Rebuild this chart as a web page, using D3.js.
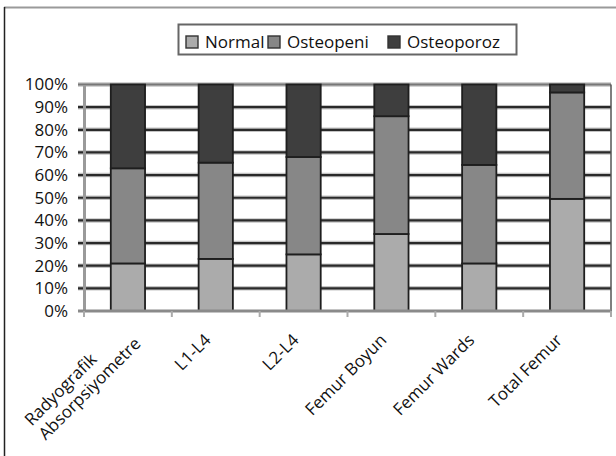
<!DOCTYPE html>
<html>
<head>
<meta charset="utf-8">
<script src="https://cdn.jsdelivr.net/npm/d3@7/dist/d3.min.js"></script>
<style>
  html, body { margin: 0; padding: 0; background: #fff; }
  svg { display: block; font-family: "Open Sans", "Noto Sans", sans-serif; }
</style>
</head>
<body>
<svg id="chart" width="616" height="456"></svg>
<script>
// Bone density classification by measurement site (stacked to 100%)
const categories = [
  ["Radyografik", "Absorpsiyometre"],
  ["L1-L4"],
  ["L2-L4"],
  ["Femur Boyun"],
  ["Femur Wards"],
  ["Total Femur"]
];
const seriesNames = ["Normal", "Osteopeni", "Osteoporoz"];
const normal     = [21, 23, 25, 34, 21, 49.5];
const osteopeni  = [42, 42.5, 43, 52, 43.5, 47];
const osteoporoz = [37, 34.5, 32, 14, 35.5, 3.5];
const yTicks = [0, 10, 20, 30, 40, 50, 60, 70, 80, 90, 100];
const colors = ["#ababab", "#878787", "#3e3e3e"];

const svg = d3.select("#chart");
const W = 616, H = 456;
const plot = { left: 84, right: 611, top: 84.5, bottom: 311 };

// frame lines
svg.append("line").attr("x1", 4).attr("x2", W).attr("y1", 7.5).attr("y2", 7.5)
  .attr("stroke", "#9a9a9a").attr("stroke-width", 2);
svg.append("line").attr("x1", 4.5).attr("x2", 4.5).attr("y1", 7).attr("y2", H)
  .attr("stroke", "#222").attr("stroke-width", 1.5);

const keys = categories.map(c => c.join(" "));
const rows = keys.map((k, i) => ({ key: k, Normal: normal[i], Osteopeni: osteopeni[i], Osteoporoz: osteoporoz[i] }));

const x = d3.scaleBand().domain(keys).range([plot.left, plot.right])
  .paddingInner(0.61).paddingOuter(0.305);
const y = d3.scaleLinear().domain([0, 100]).range([plot.bottom, plot.top]);

// horizontal gridlines with soft halo
const grid = svg.append("g");
yTicks.filter(t => t > 0).forEach(t => {
  grid.append("line").attr("x1", plot.left - 6).attr("x2", plot.right)
    .attr("y1", y(t)).attr("y2", y(t))
    .attr("stroke", "#c4c4c4").attr("stroke-width", 4.5);
});
yTicks.filter(t => t > 0).forEach(t => {
  grid.append("line").attr("x1", plot.left - 6).attr("x2", plot.right)
    .attr("y1", y(t)).attr("y2", y(t))
    .attr("stroke", t === 100 ? "#777" : "#2a2a2a").attr("stroke-width", 2.2);
});
// right plot edge
grid.append("line").attr("x1", plot.right).attr("x2", plot.right)
  .attr("y1", plot.top).attr("y2", plot.bottom)
  .attr("stroke", "#555").attr("stroke-width", 1.5);

// y axis
const yAxis = d3.axisLeft(y).tickValues(yTicks).tickFormat(d => d + "%").tickSize(0).tickPadding(16);
const ya = svg.append("g").attr("transform", `translate(${plot.left},0)`).call(yAxis);
ya.select(".domain").attr("stroke", "#9a9a9a").attr("stroke-width", 3);
ya.selectAll("text").attr("font-size", 17).attr("fill", "#111")
  .attr("font-family", "'Open Sans', sans-serif");

// stacked bars
const stack = d3.stack().keys(seriesNames);
const layers = stack(rows);
svg.append("g").selectAll("g").data(layers).join("g")
  .attr("fill", (d, i) => colors[i])
  .selectAll("rect").data(d => d).join("rect")
  .attr("x", d => x(d.data.key))
  .attr("width", x.bandwidth())
  .attr("y", d => y(d[1]))
  .attr("height", d => y(d[0]) - y(d[1]))
  .attr("stroke", "#1e1e1e").attr("stroke-width", 1.8);

// x axis baseline and category boundary ticks
svg.append("line").attr("x1", plot.left - 6).attr("x2", plot.right)
  .attr("y1", plot.bottom).attr("y2", plot.bottom)
  .attr("stroke", "#8a8a8a").attr("stroke-width", 3);
const step = x.step();
d3.range(keys.length + 1).forEach(i => {
  const bx = plot.left + i * step;
  svg.append("line").attr("x1", bx).attr("x2", bx)
    .attr("y1", plot.bottom).attr("y2", plot.bottom + 6)
    .attr("stroke", "#aaa").attr("stroke-width", 2);
});

// rotated category labels
const labels = svg.append("g").attr("font-size", 17).attr("fill", "#111");
categories.forEach((lines, i) => {
  const cx = x(keys[i]) + x.bandwidth() / 2;
  const g = labels.append("g")
    .attr("transform", `translate(${cx - 8},${plot.bottom + 26}) rotate(-45)`);
  if (lines.length === 1) {
    g.append("text").attr("text-anchor", "end").attr("dy", "0.35em").text(lines[0]);
  } else {
    const t2 = g.append("text").attr("text-anchor", "end")
      .attr("x", 10).attr("y", 15).attr("dy", "0.35em").text(lines[1]);
    const len2 = t2.node().getComputedTextLength();
    g.append("text").attr("text-anchor", "start")
      .attr("x", 10 - len2).attr("y", -5).attr("dy", "0.35em").text(lines[0]);
  }
});

// legend
const lg = svg.append("g");
lg.append("rect").attr("x", 178.5).attr("y", 24.5).attr("width", 338).attr("height", 30)
  .attr("fill", "#fff").attr("stroke", "#666").attr("stroke-width", 2);
const legendX = [186, 268, 388];
seriesNames.forEach((name, i) => {
  lg.append("rect").attr("x", legendX[i]).attr("y", 36).attr("width", 12).attr("height", 12)
    .attr("fill", colors[i]).attr("stroke", "#333").attr("stroke-width", 1.4);
  lg.append("text").attr("x", legendX[i] + 19).attr("y", 42).attr("dy", "0.35em")
    .attr("font-size", 17).attr("fill", "#111").text(name);
});
</script>
</body>
</html>
